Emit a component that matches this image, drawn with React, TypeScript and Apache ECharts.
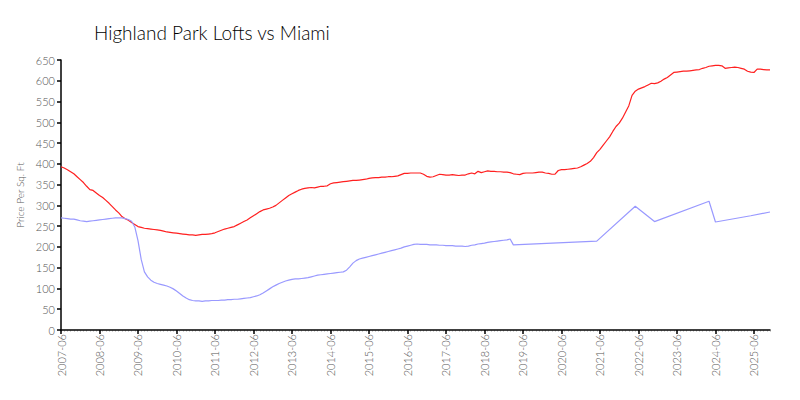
import React, { useEffect, useRef } from "react";
import * as echarts from "echarts";

const title = "Highland Park Lofts vs Miami";
const yAxisName = "Price Per Sq. Ft";

// monthly categories 2007-06 .. 2025-11
const startYear = 2007;
const startMonth = 6;
const monthCount = 222;
const categories: string[] = [];
for (let k = 0; k < monthCount; k++) {
  const m = startMonth - 1 + k;
  const y = startYear + Math.floor(m / 12);
  const mm = (m % 12) + 1;
  categories.push(`${y}-${mm < 10 ? "0" + mm : mm}`);
}

const highlandPark: number[] = [
  393, 390, 386, 381, 376, 369, 362, 355, 346, 338, 336, 330,
  324, 319, 312, 305, 297, 289, 282, 273, 268, 264, 259, 254,
  249, 247, 245, 244, 243, 242, 241, 240, 238, 236, 235, 234,
  233, 232, 231, 230, 229, 229, 228, 229, 230, 230, 231, 232,
  234, 237, 240, 243, 245, 247, 249, 253, 257, 261, 265, 270,
  275, 280, 285, 289, 291, 293, 296, 300, 306, 312, 318, 324,
  328, 332, 336, 339, 341, 342, 343, 342, 344, 346, 346, 347,
  352, 354, 355, 356, 357, 358, 359, 360, 360, 361, 362, 363,
  365, 366, 367, 367, 368, 368, 369, 369, 370, 371, 374, 377,
  377, 378, 378, 378, 378, 375, 370, 368, 369, 372, 375, 374,
  373, 373, 374, 373, 372, 373, 373, 376, 378, 376, 382, 379,
  381, 383, 382, 382, 381, 381, 380, 380, 379, 376, 375, 374,
  377, 378, 378, 378, 379, 380, 380, 378, 377, 375, 375, 384,
  386, 386, 387, 388, 389, 390, 393, 397, 401, 406, 415, 427,
  435, 445, 455, 465, 478, 490, 498, 510, 525, 540, 565, 575,
  580, 583, 586, 590, 594, 593, 595, 599, 604, 608, 614, 620,
  621, 622, 623, 623, 624, 625, 626, 627, 630, 632, 635, 636,
  637, 637, 636, 630, 631, 632, 633, 632, 630, 628, 623, 621,
  620, 628, 628, 627, 626, 626,
];

const miamiDense: number[] = [
  270, 269, 268, 267, 267, 265, 263, 262, 261, 262, 263, 264,
  265, 266, 267, 268, 269, 270, 270, 270, 268, 266, 262, 248,
  215, 170, 140, 128, 120, 115, 112, 110, 108, 106, 103, 99,
  94, 88, 82, 77, 73, 71, 70, 70, 69, 70, 70, 71,
  71, 71, 72, 72, 73, 73, 74, 74, 75, 76, 77, 78,
  80, 82, 85, 89, 94, 99, 104, 108, 112, 115, 118, 120,
  122, 123, 123, 124, 125, 126, 128, 130, 132, 133, 134, 135,
  136, 137, 138, 139, 140, 144, 152, 161, 167, 171, 173, 175,
  177, 179, 181, 183, 185, 187, 189, 191, 193, 195, 197, 200,
  202, 204, 206, 207, 206, 206, 206, 205, 205, 205, 204, 204,
  203, 203, 203, 202, 202, 202, 201, 202, 204, 205, 207, 208,
  209, 211, 212, 213, 214, 215, 216, 217, 219, 205,
];
// later Miami readings are sparse (month index -> value)
const miamiSparseIdx: number[] = [167, 179, 185, 202, 204, 215, 221];
const miamiSparseVal: number[] = [214, 298, 261, 310, 260, 275, 284];

const miami: (number | null)[] = categories.map((_, k) => {
  if (k < miamiDense.length) return miamiDense[k];
  const p = miamiSparseIdx.indexOf(k);
  return p >= 0 ? miamiSparseVal[p] : null;
});

const FONT = "Lato";

export default function App() {
  const ref = useRef<HTMLDivElement>(null);
  useEffect(() => {
    if (!ref.current) return;
    const chart = echarts.init(ref.current, undefined, { renderer: "svg" });
    chart.setOption({
      animation: false,
      backgroundColor: "#ffffff",
      title: {
        text: title,
        left: 89,
        top: 18,
        textStyle: {
          fontFamily: FONT,
          fontWeight: 300,
          fontSize: 19,
          color: "#000",
        },
      },
      grid: { left: 61, right: 30, top: 60, bottom: 70, containLabel: false },
      xAxis: [
        {
          type: "category",
          data: categories,
          boundaryGap: false,
          axisLine: { lineStyle: { color: "#000", width: 1.5 } },
          axisTick: { interval: 11, length: 4, lineStyle: { color: "#000", width: 1.5 } },
          axisLabel: {
            interval: 11,
            rotate: 90,
            fontFamily: FONT,
            fontWeight: 300,
            fontSize: 11,
            color: "#555",
            margin: 4,
          },
          splitLine: { show: false },
          z: 3,
        },
        {
          type: "category",
          data: categories,
          boundaryGap: false,
          position: "bottom",
          axisLine: { show: false },
          axisTick: { interval: 0, length: 2, lineStyle: { color: "#c8c8c8", width: 0.8 } },
          axisLabel: { show: false },
          splitLine: { show: false },
          z: 2,
        },
      ],
      yAxis: {
        type: "value",
        min: 0,
        max: 650,
        interval: 50,
        name: yAxisName,
        nameLocation: "middle",
        nameGap: 27,
        nameTextStyle: { fontFamily: FONT, fontWeight: 300, fontSize: 10, color: "#555" },
        axisLine: { show: true, lineStyle: { color: "#000", width: 1.5 } },
        axisTick: { show: true, length: 4, lineStyle: { color: "#000", width: 1.5 } },
        axisLabel: { fontFamily: FONT, fontWeight: 300, fontSize: 11, color: "#555", margin: 6 },
        splitLine: { show: false },
      },
      series: [
        {
          name: "Highland Park Lofts",
          type: "line",
          xAxisIndex: 0,
          data: highlandPark,
          showSymbol: false,
          lineStyle: { color: "#ff2020", width: 1.2 },
          itemStyle: { color: "#ff2020" },
        },
        {
          name: "Miami",
          type: "line",
          xAxisIndex: 0,
          data: miami,
          connectNulls: true,
          showSymbol: false,
          lineStyle: { color: "#9999ff", width: 1.2 },
          itemStyle: { color: "#9999ff" },
        },
      ],
    });
    return () => chart.dispose();
  }, []);
  return (
    <div
      ref={ref}
      style={{ position: "fixed", left: 0, top: 0, width: 800, height: 400 }}
    />
  );
}
